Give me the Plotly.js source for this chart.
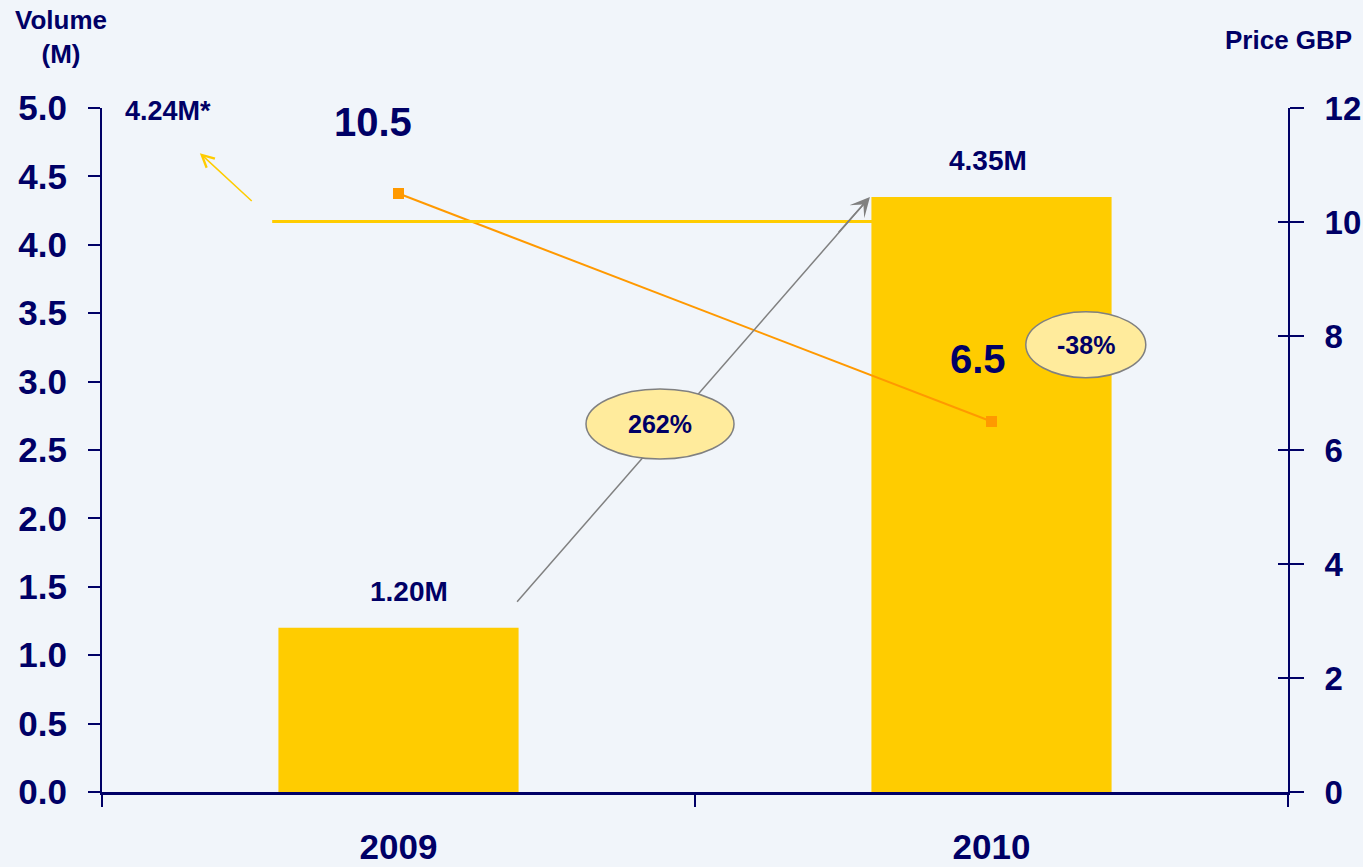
<!DOCTYPE html>
<html>
<head>
<meta charset="utf-8">
<script src="https://cdn.plot.ly/plotly-3.0.1.min.js"></script>
<style>html,body{margin:0;padding:0;background:#F1F5FA;}</style>
</head>
<body>
<div id="chart" style="width:1363px;height:867px;"></div>
<script>
// ---- data ----
const years = ['2009', '2010'];
const volumeM = [1.20, 4.35];
const priceGBP = [10.5, 6.5];
const volumeChange = ['262%'];
const priceChange = ['-38%'];
const refVolumeLabel = '4.24M*';
const refVolumeLevel = [4.17];
const volumeTicks = [0, 0.5, 1, 1.5, 2, 2.5, 3, 3.5, 4, 4.5, 5];
const priceTicks = [0, 2, 4, 6, 8, 10, 12];

const navy = '#000066';
const FONT = 'Arial, "Liberation Sans", sans-serif';
const bg = '#F1F5FA';

const bars = {
  type: 'bar', x: years, y: volumeM, width: 0.405,
  marker: {color: '#FFCC00'}, hoverinfo: 'skip', showlegend: false
};
const priceLine = {
  type: 'scatter', mode: 'lines+markers', x: years, y: priceGBP, yaxis: 'y2',
  line: {color: '#FF9900', width: 2},
  marker: {symbol: 'square', size: 11, color: '#FF9900'},
  showlegend: false, hoverinfo: 'skip'
};
// invisible trace to carry the crossing ticks axis
const dummy = {type: 'scatter', x: [years[0]], y: [0], yaxis: 'y3', mode: 'markers',
  marker: {opacity: 0}, showlegend: false, hoverinfo: 'skip'};

const annotations = [];
// bar value labels (x given as category index)
const volShift = [10, -4];
volumeM.forEach((v, i) => annotations.push({
  x: i, y: v, xref: 'x', yref: 'y', text: v.toFixed(2) + 'M', showarrow: false,
  xanchor: 'center', yshift: 36, xshift: volShift[i],
  font: {family: FONT, size: 28, color: navy, weight: 'bold'}
}));
// price labels
const priceShift = [[-26, 72], [-14, 63]];
priceGBP.forEach((p, i) => annotations.push({
  x: i, y: p, xref: 'x', yref: 'y2', text: String(p), showarrow: false,
  xanchor: 'center', xshift: priceShift[i][0], yshift: priceShift[i][1],
  font: {family: FONT, size: 40, color: navy, weight: 'bold'}
}));
// 4.24M* label
annotations.push({
  x: -0.465, y: 4.98, xref: 'x', yref: 'y', xanchor: 'left', yanchor: 'middle',
  text: refVolumeLabel, showarrow: false,
  font: {family: FONT, size: 27, color: navy, weight: 'bold'}
});
// yellow arrow to 4.24M*
annotations.push({
  x: -0.335, y: 4.67, ax: -0.245, ay: 4.31, xref: 'x', yref: 'y', axref: 'x', ayref: 'y',
  text: '', showarrow: true, arrowhead: 5, arrowsize: 1.6, arrowwidth: 1.5, arrowcolor: '#FFCC00'
});
// gray arrow head only (line drawn as shape so ellipse can cover it)
annotations.push({
  x: 0.795, y: 4.35, ax: 0.74, ay: 4.08, xref: 'x', yref: 'y', axref: 'x', ayref: 'y',
  text: '', showarrow: true, arrowhead: 3, arrowsize: 2.2, arrowwidth: 1.5, arrowcolor: '#808080'
});
// ellipse texts
annotations.push({x: 0.441, y: 2.69, xref: 'x', yref: 'y', text: volumeChange[0], showarrow: false,
  xanchor: 'center', font: {family: FONT, size: 25, color: navy, weight: 'bold'}});
annotations.push({x: 1.159, y: 3.27, xref: 'x', yref: 'y', text: priceChange[0], showarrow: false,
  xanchor: 'center', font: {family: FONT, size: 25, color: navy, weight: 'bold'}});
// axis titles
annotations.push({x: -0.0346, y: 1.104, xref: 'paper', yref: 'paper', text: 'Volume<br>(M)',
  showarrow: false, xanchor: 'center', yanchor: 'middle',
  font: {family: FONT, size: 26, color: navy, weight: 'bold'}});
annotations.push({x: 1.056, y: 1.099, xref: 'paper', yref: 'paper', text: 'Price GBP',
  showarrow: false, xanchor: 'right', yanchor: 'middle',
  font: {family: FONT, size: 26, color: navy, weight: 'bold'}});

const shapes = [
  // reference level line
  {type: 'line', xref: 'x', yref: 'y', x0: -0.213, x1: 0.8, y0: refVolumeLevel[0], y1: refVolumeLevel[0],
   line: {color: '#FFCC00', width: 3}, layer: 'above'},
  // gray arrow shaft
  {type: 'line', xref: 'x', yref: 'y', x0: 0.2, y0: 1.39, x1: 0.785, y1: 4.30,
   line: {color: '#808080', width: 1.5}, layer: 'above'},
  // ellipses
  {type: 'circle', xref: 'x', yref: 'y', xsizemode: 'pixel', ysizemode: 'pixel',
   xanchor: 0.441, yanchor: 2.69, x0: -74, x1: 74, y0: -35, y1: 35,
   fillcolor: '#FFEB9C', line: {color: '#808080', width: 1.5}, layer: 'above'},
  {type: 'circle', xref: 'x', yref: 'y', xsizemode: 'pixel', ysizemode: 'pixel',
   xanchor: 1.159, yanchor: 3.27, x0: -60, x1: 60, y0: -33, y1: 33,
   fillcolor: '#FFEB9C', line: {color: '#808080', width: 1.5}, layer: 'above'}
];

const tickFont = {family: FONT, size: 35, color: navy, weight: 'bold'};
const rightTickFont = {family: FONT, size: 33, color: navy, weight: 'bold'};

const layout = {
  width: 1363, height: 867,
  paper_bgcolor: bg, plot_bgcolor: bg,
  margin: {l: 102, r: 75, t: 108, b: 75},
  showlegend: false,
  xaxis: {
    type: 'category', range: [-0.5, 1.5], tickson: 'boundaries',
    ticks: 'outside', ticklen: 12, tickwidth: 1.5, tickcolor: navy,
    showline: true, linecolor: navy, linewidth: 3, showgrid: false, zeroline: false,
    tickfont: tickFont, ticklabelstandoff: 22, fixedrange: true
  },
  yaxis: {
    range: [0, 5], tickvals: volumeTicks, tickformat: '.1f',
    ticks: 'outside', ticklen: 12, tickwidth: 2, tickcolor: navy,
    showline: true, linecolor: navy, linewidth: 2, showgrid: false, zeroline: false,
    tickfont: tickFont, ticklabelstandoff: 14
  },
  yaxis2: {
    range: [0, 12], tickvals: priceTicks, overlaying: 'y', side: 'right',
    ticks: 'outside', ticklen: 14, tickwidth: 2, tickcolor: navy,
    showline: true, linecolor: navy, linewidth: 2, showgrid: false, zeroline: false,
    tickfont: rightTickFont, ticklabelstandoff: 14
  },
  yaxis3: {
    range: [0, 12], tickvals: priceTicks, overlaying: 'y', side: 'right',
    ticks: 'inside', ticklen: 10, tickwidth: 2, tickcolor: navy,
    showline: false, showgrid: false, zeroline: false, showticklabels: false
  },
  shapes: shapes,
  annotations: annotations
};

Plotly.newPlot('chart', [bars, priceLine, dummy], layout, {displayModeBar: false, staticPlot: true});
</script>
</body>
</html>
